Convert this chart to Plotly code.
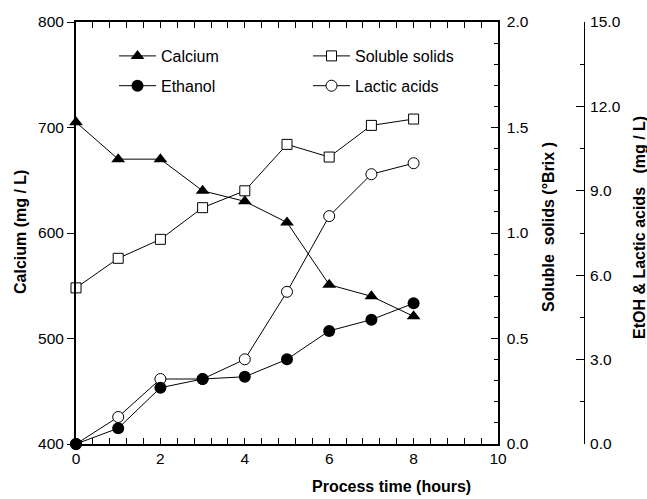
import plotly.graph_objects as go

hours = [0, 1, 2, 3, 4, 5, 6, 7, 8]
calcium = [705, 670, 670, 640, 630, 610, 551, 540, 521]
soluble_solids = [0.74, 0.88, 0.97, 1.12, 1.20, 1.42, 1.36, 1.51, 1.54]
ethanol = [0.0, 0.56, 2.0, 2.31, 2.39, 3.01, 4.02, 4.42, 5.0]
lactic = [0.0, 0.96, 2.31, 2.31, 3.01, 5.41, 8.1, 9.59, 9.98]

FONT = "Liberation Sans, Arial, sans-serif"
BLACK = "black"

fig = go.Figure()

fig.add_trace(go.Scatter(
    x=hours, y=calcium, name="Calcium", mode="lines+markers",
    line=dict(color=BLACK, width=1),
    marker=dict(symbol="triangle-up", size=12, color=BLACK),
    cliponaxis=False, legend="legend", legendgroup="a", legendrank=1, yaxis="y"))
fig.add_trace(go.Scatter(
    x=hours, y=soluble_solids, name="Soluble solids", mode="lines+markers",
    line=dict(color=BLACK, width=1),
    marker=dict(symbol="square", size=10, color="white", line=dict(color=BLACK, width=1)),
    cliponaxis=False, legend="legend2", legendgroup="c", legendrank=1, yaxis="y2"))
fig.add_trace(go.Scatter(
    x=hours, y=lactic, name="Lactic acids", mode="lines+markers",
    line=dict(color=BLACK, width=1),
    marker=dict(symbol="circle", size=11, color="white", line=dict(color=BLACK, width=1)),
    cliponaxis=False, legend="legend2", legendgroup="d", legendrank=2, yaxis="y3"))
fig.add_trace(go.Scatter(
    x=hours, y=ethanol, name="Ethanol", mode="lines+markers",
    line=dict(color=BLACK, width=1),
    marker=dict(symbol="circle", size=12, color=BLACK),
    cliponaxis=False, legend="legend", legendgroup="b", legendrank=2, yaxis="y3"))

W, H = 647, 499
L, R, T, B = 76, 63, 22, 55
pw = W - L - R
ph = H - T - B
plot_right = 498

def px(xp):
    return (xp - L) / pw

def py(yp):
    return (H - B - yp) / ph

tickfont = dict(family=FONT, size=15.5, color=BLACK)
titlefont = dict(family=FONT, size=16, color=BLACK)
legfont = dict(family=FONT, size=16, color=BLACK)

fig.update_layout(
    width=W, height=H,
    margin=dict(l=L, r=R, t=T, b=B, autoexpand=False),
    paper_bgcolor="white", plot_bgcolor="white",
    font=dict(family=FONT, color=BLACK),
    showlegend=True,
    xaxis=dict(
        domain=[0, px(plot_right)], range=[0, 10], dtick=2, tick0=0,
        showgrid=False, zeroline=False, showline=True, linecolor=BLACK, linewidth=1.5,
        ticks="inside", ticklen=6, tickwidth=1, tickcolor=BLACK, mirror="allticks",
        minor=dict(dtick=0.4, tick0=0, ticks="inside", ticklen=4, tickwidth=1, tickcolor=BLACK, showgrid=False),
        tickfont=tickfont, anchor="y",
    ),
    yaxis=dict(
        range=[400, 800], dtick=100, showgrid=False, zeroline=False,
        showline=True, linecolor=BLACK, linewidth=2,
        ticks="outside", ticklen=7, tickwidth=1, tickcolor=BLACK,
        tickfont=tickfont, anchor="x",
    ),
    yaxis2=dict(
        range=[0, 2], dtick=0.5, tickformat=".1f", overlaying="y", side="right", anchor="x",
        showgrid=False, zeroline=False, showline=True, linecolor=BLACK, linewidth=1.5,
        ticks="inside", ticklen=7, tickwidth=1, tickcolor=BLACK,
        minor=dict(dtick=0.1, ticks="inside", ticklen=4, tickwidth=1, tickcolor=BLACK, showgrid=False),
        tickfont=tickfont, ticklabelstandoff=4,
    ),
    yaxis3=dict(
        range=[0, 15], dtick=3, tickformat=".1f", overlaying="y", side="right",
        anchor="free", position=1.0,
        showgrid=False, zeroline=False, showline=True, linecolor=BLACK, linewidth=1,
        ticks="inside", ticklen=8, tickwidth=1, tickcolor=BLACK,
        minor=dict(dtick=1.5, ticks="inside", ticklen=4, tickwidth=1, tickcolor=BLACK, showgrid=False),
        tickfont=tickfont, ticklabelstandoff=2,
    ),
    legend=dict(
        x=px(114), y=py(39), xanchor="left", yanchor="top",
        bgcolor="rgba(0,0,0,0)", borderwidth=0, font=legfont,
        tracegroupgap=6, traceorder="grouped", itemwidth=37,
    ),
    legend2=dict(
        x=px(308), y=py(39), xanchor="left", yanchor="top",
        bgcolor="rgba(0,0,0,0)", borderwidth=0, font=legfont,
        tracegroupgap=6, traceorder="grouped", itemwidth=37,
    ),
    annotations=[
        dict(text="<b>Calcium (mg / L)</b>", x=px(20), y=py(232), xref="paper", yref="paper",
             textangle=-90, showarrow=False, font=titlefont, xanchor="center", yanchor="middle"),
        dict(text="<b>Soluble\u00a0 solids (°Brix )</b>", x=px(549), y=py(227), xref="paper", yref="paper",
             textangle=-90, showarrow=False, font=titlefont, xanchor="center", yanchor="middle"),
        dict(text="<b>EtOH &amp; Lactic acids\u00a0\u00a0 (mg / L)</b>", x=px(639), y=py(228), xref="paper", yref="paper",
             textangle=-90, showarrow=False, font=titlefont, xanchor="center", yanchor="middle"),
        dict(text="<b>Process time (hours)</b>", x=px(391), y=py(487), xref="paper", yref="paper",
             showarrow=False, font=titlefont, xanchor="center", yanchor="middle"),
    ],
)

fig.write_html("out.html")
